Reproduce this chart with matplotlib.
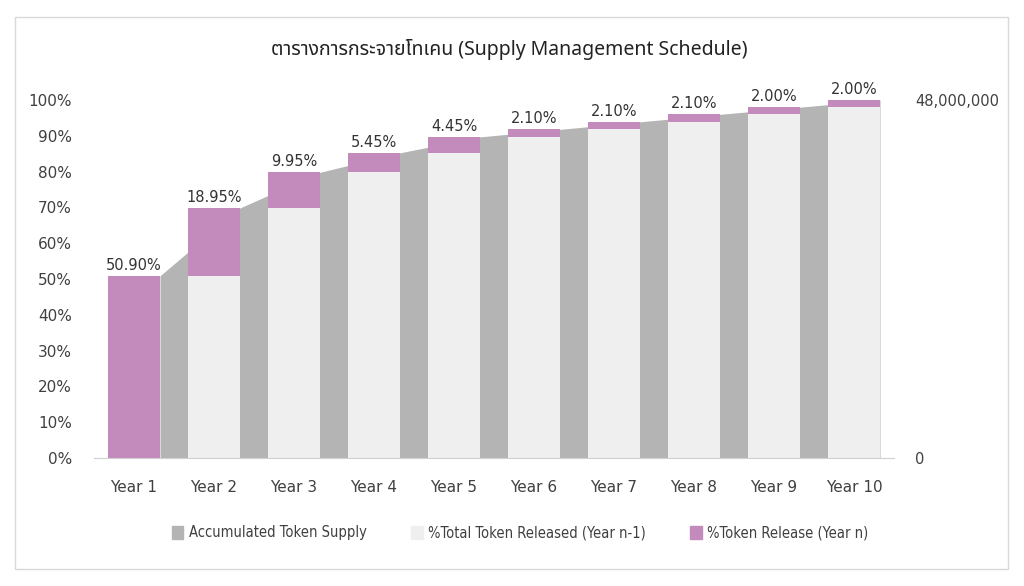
import matplotlib.pyplot as plt
from matplotlib.patches import Rectangle, Patch
from matplotlib.ticker import FuncFormatter, FixedLocator

years = ["Year 1", "Year 2", "Year 3", "Year 4", "Year 5",
         "Year 6", "Year 7", "Year 8", "Year 9", "Year 10"]
release_pct = [50.90, 18.95, 9.95, 5.45, 4.45, 2.10, 2.10, 2.10, 2.00, 2.00]
total_supply = 48000000

# cumulative share released before and after each year
prev_pct = []
cum_pct = []
running = 0.0
for r in release_pct:
    prev_pct.append(running)
    running += r
    cum_pct.append(running)
accum_supply = [c / 100 * total_supply for c in cum_pct]

purple = "#c38bbb"
light = "#efefef"
area_gray = "#b4b4b4"
text_col = "#404040"

fig = plt.figure(figsize=(10.24, 5.86), dpi=100)
fig.patches.append(Rectangle((15 / 1024, 1 - 569 / 586), 993 / 1024, 552 / 586,
                             transform=fig.transFigure, fill=False,
                             edgecolor="#d9d9d9", linewidth=1))

ax = fig.add_axes([94 / 1024, 1 - 458 / 586, 800 / 1024, 358 / 586])
ax2 = ax.twinx()

w = 0.65
x = list(range(len(years)))

# area on the secondary axis, points sit at the right edge of each bar
ax2.fill_between([i + w / 2 for i in x], 0, accum_supply, color=area_gray, linewidth=0)
ax2.set_xlim(-0.5, len(years) - 0.5)
ax2.set_ylim(0, total_supply)
ax2.yaxis.set_major_locator(FixedLocator([0, total_supply]))
ax2.yaxis.set_major_formatter(FuncFormatter(lambda v, p: f"{int(v):,}"))

ax.set_zorder(ax2.get_zorder() + 1)
ax.patch.set_visible(False)

ax.bar(x, [p / 100 for p in prev_pct], width=w, color=light)
ax.bar(x, [r / 100 for r in release_pct], bottom=[p / 100 for p in prev_pct],
       width=w, color=purple)
for i in x:
    ax.text(i, cum_pct[i] / 100 + 0.008, f"{release_pct[i]:.2f}%", ha="center",
            va="bottom", fontsize=10.5, color="#333333")

ax.set_xlim(-0.5, len(years) - 0.5)
ax.set_ylim(0, 1)
ax.set_yticks([i / 10 for i in range(11)])
ax.yaxis.set_major_formatter(FuncFormatter(lambda v, p: f"{v * 100:.0f}%"))
ax.set_xticks(x)
ax.set_xticklabels(years)

for a in (ax, ax2):
    for s in a.spines.values():
        s.set_visible(False)
    a.tick_params(length=0, colors=text_col, labelsize=11)
ax.spines["bottom"].set_visible(True)
ax.spines["bottom"].set_color("#d0d0d0")
ax.tick_params(axis="y", pad=16)
ax.tick_params(axis="x", pad=16)
ax2.tick_params(axis="y", pad=15, labelsize=10.5)

fig.text(0.497, 1 - 50 / 586, "ตารางการกระจายโทเคน (Supply Management Schedule)",
         ha="center", va="center", fontsize=14, fontweight="bold", color="#222222",
         family=["Noto Sans Thai", "Noto Sans Thai Looped", "Loma", "Garuda",
                 "Tlwg Typo", "DejaVu Sans"])

handles = [Patch(color=area_gray), Patch(color=light), Patch(color=purple)]
labels = ["Accumulated Token Supply", "%Total Token Released (Year n-1)",
          "%Token Release (Year n)"]
fig.legend(handles, labels, loc="center", bbox_to_anchor=(0.508, 1 - 533 / 586),
           ncol=3, frameon=False, handlelength=0.8, handleheight=1.0,
           columnspacing=3.0, handletextpad=0.4, labelcolor=text_col,
           prop={"family": "DejaVu Sans", "stretch": "condensed", "size": 10.5})

fig.savefig("out.png", dpi=100)
